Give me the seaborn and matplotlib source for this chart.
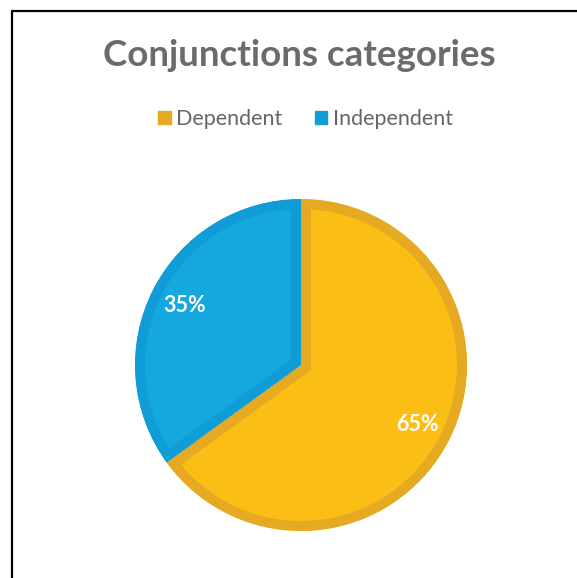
import matplotlib
matplotlib.use("Agg")
import matplotlib.pyplot as plt
import matplotlib.patches as mpatches
import seaborn as sns

# ── data ──────────────────────────────────────────────────────────────────────
categories = ["Dependent", "Independent"]
shares = [65, 35]
fill_colors = ["#FBBE14", "#14A8DF"]
edge_colors = ["#E6AA22", "#109CD7"]

sns.set_theme(style="white")
plt.rcParams["font.family"] = ["Lato", "DejaVu Sans"]

fig = plt.figure(figsize=(5.77, 5.78), dpi=100)

# outer frame (only left/top visible in the reference)
fig.add_artist(plt.Line2D([12 / 577, 12 / 577], [0, 1 - 11 / 578],
                          color="black", lw=1.6, transform=fig.transFigure))
fig.add_artist(plt.Line2D([12 / 577, 1], [1 - 11 / 578, 1 - 11 / 578],
                          color="black", lw=1.6, transform=fig.transFigure))

# ── pie ───────────────────────────────────────────────────────────────────────
r_px = 166
cx, cy = 301, 365
ax = fig.add_axes([(cx - r_px) / 577, (578 - cy - r_px) / 578,
                   2 * r_px / 577, 2 * r_px / 578])
wedges, _, autotexts = ax.pie(
    shares, colors=fill_colors, startangle=90, counterclock=False,
    autopct="%1.0f%%", pctdistance=0.79, radius=1,
    textprops=dict(color="white", fontsize=15.5, fontweight="bold"),
)
for w, ec in zip(wedges, edge_colors):
    w.set_edgecolor(ec)
    w.set_linewidth(14.4)  # 20 px, clipped to the wedge -> 10 px inner border
    w.set_joinstyle("miter")
    w.set_clip_on(True)
    w.set_clip_path(w)
ax.set_xlim(-1, 1)
ax.set_ylim(-1, 1)
ax.set_aspect("equal")
ax.axis("off")

# ── title & legend ────────────────────────────────────────────────────────────
fig.text(0.519, 1 - 56 / 578, "Conjunctions categories", ha="center", va="center",
         fontsize=26.5, fontweight="bold", color="#6B6B6B")

handles = [mpatches.Patch(color=c, label=l) for c, l in zip(edge_colors, categories)]
leg = fig.legend(handles=handles, loc="center", bbox_to_anchor=(0.529, 1 - 119 / 578),
                 ncol=2, frameon=False, fontsize=15.5, handlelength=0.6,
                 handleheight=0.6, handletextpad=0.25, columnspacing=1.5)
for t in leg.get_texts():
    t.set_color("#666666")

fig.savefig("out.png", dpi=100, facecolor="white")
